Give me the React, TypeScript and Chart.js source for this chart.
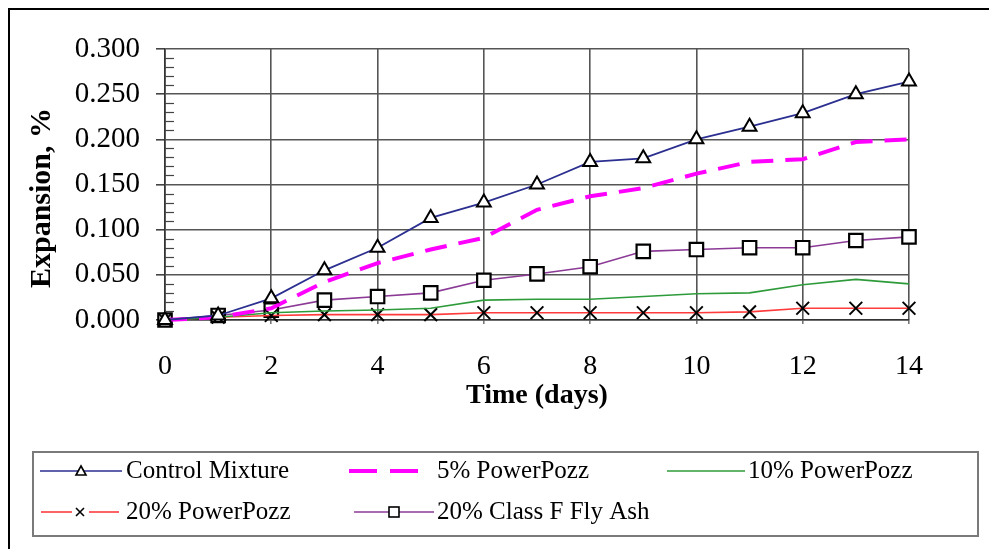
import React, { useEffect, useRef } from "react";
import { Chart, registerables } from "chart.js";

Chart.register(...registerables);

const days = [0, 1, 2, 3, 4, 5, 6, 7, 8, 9, 10, 11, 12, 13, 14];
const controlMixture = [0, 0.005, 0.024, 0.055, 0.08, 0.113, 0.13, 0.15, 0.175, 0.179, 0.2, 0.214, 0.229, 0.25, 0.264];
const powerPozz5 = [0, 0.003, 0.013, 0.042, 0.063, 0.078, 0.091, 0.122, 0.137, 0.146, 0.162, 0.175, 0.178, 0.197, 0.2];
const powerPozz10 = [0, 0.003, 0.008, 0.01, 0.011, 0.013, 0.022, 0.023, 0.023, 0.026, 0.029, 0.03, 0.039, 0.045, 0.04];
const powerPozz20 = [0, 0.003, 0.005, 0.006, 0.006, 0.006, 0.008, 0.008, 0.008, 0.008, 0.008, 0.009, 0.013, 0.013, 0.013];
const flyAsh20 = [0, 0.005, 0.011, 0.022, 0.026, 0.03, 0.044, 0.051, 0.059, 0.076, 0.078, 0.08, 0.08, 0.088, 0.092];
const seriesNames = ["Control Mixture", "5% PowerPozz", "10% PowerPozz", "20% PowerPozz", "20% Class F Fly Ash"];
const xTitle = "Time (days)";
const yTitle = "Expansion, %";

const SERIF = "'Liberation Serif', 'Times New Roman', serif";

const pts = (ys: number[]) => days.map((d, i) => ({ x: d, y: ys[i] }));

const decorPlugin = {
  id: "decor",
  beforeDraw(chart: any) {
    const ctx = chart.ctx;
    ctx.save();
    ctx.fillStyle = "#ffffff";
    ctx.fillRect(0, 0, chart.width, chart.height);
    ctx.strokeStyle = "#000";
    ctx.lineWidth = 2;
    ctx.strokeRect(9, 9, chart.width + 20, chart.height + 20);
    ctx.restore();
  },
  afterDraw(chart: any) {
    const ctx = chart.ctx;
    const ys = chart.scales.y;
    const xs = chart.scales.x;
    ctx.save();
    // minor ticks on y axis
    ctx.strokeStyle = "#444";
    ctx.lineWidth = 1.2;
    const x0 = xs.getPixelForValue(0);
    for (let k = 1; k < 30; k++) {
      if (k % 5 === 0) continue;
      const py = Math.round(ys.getPixelForValue(k / 100)) + 0.5;
      ctx.beginPath();
      ctx.moveTo(x0, py);
      ctx.lineTo(x0 + 9, py);
      ctx.stroke();
    }
    // titles
    ctx.fillStyle = "#000";
    ctx.font = `bold 28px ${SERIF}`;
    ctx.textAlign = "center";
    ctx.textBaseline = "middle";
    ctx.fillText(xTitle, (xs.left + xs.right) / 2 - 0, 396);
    ctx.save();
    ctx.translate(42, 198);
    ctx.rotate(-Math.PI / 2);
    ctx.font = `bold 30px ${SERIF}`;
    ctx.fillText(yTitle, 0, 0);
    ctx.restore();

    // legend
    ctx.strokeStyle = "#7a7a7a";
    ctx.lineWidth = 2;
    ctx.strokeRect(33, 452, 945, 84);
    ctx.font = `25px ${SERIF}`;
    ctx.textAlign = "left";
    ctx.textBaseline = "middle";
    const r1 = 471;
    const r2 = 512;
    const line = (xa: number, xb: number, y: number, color: string, w: number) => {
      ctx.strokeStyle = color;
      ctx.lineWidth = w;
      ctx.beginPath();
      ctx.moveTo(xa, y);
      ctx.lineTo(xb, y);
      ctx.stroke();
    };
    // Control Mixture
    line(40, 122, r1, "#2b2f8f", 1.6);
    ctx.fillStyle = "#fff";
    ctx.strokeStyle = "#000";
    ctx.lineWidth = 1.6;
    ctx.beginPath();
    ctx.moveTo(81, r1 - 5);
    ctx.lineTo(86, r1 + 4);
    ctx.lineTo(76, r1 + 4);
    ctx.closePath();
    ctx.fill();
    ctx.stroke();
    ctx.fillStyle = "#000";
    ctx.fillText(seriesNames[0], 126, r1);
    // 5%
    line(349, 377, r1, "#ff00ff", 4);
    line(390, 418, r1, "#ff00ff", 4);
    ctx.fillStyle = "#000";
    ctx.fillText(seriesNames[1], 437, r1);
    // 10%
    line(667, 745, r1, "#2e9b3a", 1.6);
    ctx.fillText(seriesNames[2], 748, r1);
    // 20% PP
    line(41, 72, r2, "#ff3b3b", 1.6);
    line(89, 119, r2, "#ff3b3b", 1.6);
    ctx.strokeStyle = "#000";
    ctx.lineWidth = 1.6;
    ctx.beginPath();
    ctx.moveTo(76, r2 - 4);
    ctx.lineTo(84, r2 + 4);
    ctx.moveTo(84, r2 - 4);
    ctx.lineTo(76, r2 + 4);
    ctx.stroke();
    ctx.fillStyle = "#000";
    ctx.fillText(seriesNames[3], 126, r2);
    // Fly ash
    line(354, 434, r2, "#8b3a96", 1.6);
    ctx.fillStyle = "#fff";
    ctx.fillRect(389, r2 - 5, 10, 10);
    ctx.strokeStyle = "#000";
    ctx.lineWidth = 1.6;
    ctx.strokeRect(389, r2 - 5, 10, 10);
    ctx.fillStyle = "#000";
    ctx.fillText(seriesNames[4], 437, r2);
    ctx.restore();
  },
};

export default function App() {
  const ref = useRef<HTMLCanvasElement | null>(null);
  useEffect(() => {
    if (!ref.current) return;
    const chart = new Chart(ref.current, {
      type: "line",
      data: {
        datasets: [
          {
            label: seriesNames[0],
            data: pts(controlMixture),
            borderColor: "#2b2f8f",
            borderWidth: 1.8,
            pointStyle: "triangle",
            pointRadius: 8,
            pointBackgroundColor: "#fff",
            pointBorderColor: "#000",
            pointBorderWidth: 2,
            tension: 0,
            clip: false,
          },
          {
            label: seriesNames[1],
            data: pts(powerPozz5),
            borderColor: "#ff00ff",
            borderWidth: 4,
            borderDash: [22, 12],
            pointRadius: 0,
            tension: 0,
            clip: false,
          },
          {
            label: seriesNames[2],
            data: pts(powerPozz10),
            borderColor: "#2e9b3a",
            borderWidth: 1.6,
            pointRadius: 0,
            tension: 0,
            clip: false,
          },
          {
            label: seriesNames[3],
            data: pts(powerPozz20),
            borderColor: "#ff3b3b",
            borderWidth: 1.6,
            pointStyle: "crossRot",
            pointRadius: 9,
            pointBorderColor: "#000",
            pointBorderWidth: 2,
            tension: 0,
            clip: false,
          },
          {
            label: seriesNames[4],
            data: pts(flyAsh20),
            borderColor: "#8b3a96",
            borderWidth: 1.6,
            pointStyle: "rect",
            pointRadius: 9.5,
            pointBackgroundColor: "#fff",
            pointBorderColor: "#000",
            pointBorderWidth: 2.2,
            tension: 0,
            clip: false,
          },
        ],
      },
      options: {
        responsive: false,
        animation: false,
        devicePixelRatio: 1,
        layout: { padding: { left: 0, top: 49, right: 80, bottom: 0 } },
        plugins: { legend: { display: false }, tooltip: { enabled: false } },
        scales: {
          x: {
            type: "linear",
            min: 0,
            max: 14,
            afterFit: (s: any) => {
              s.height = 229;
            },
            ticks: {
              stepSize: 2,
              color: "#000",
              font: { family: SERIF, size: 28 },
              padding: 26,
              maxRotation: 0,
            },
            grid: { color: "#555", lineWidth: 1.6, tickLength: 4, tickColor: "#777" },
            border: { color: "#333", width: 1.6 },
          },
          y: {
            min: 0,
            max: 0.3,
            afterFit: (s: any) => {
              s.width = 165;
            },
            ticks: {
              stepSize: 0.05,
              color: "#000",
              font: { family: SERIF, size: 29 },
              padding: 16,
              callback: (v: any) => Number(v).toFixed(3),
            },
            grid: { color: "#555", lineWidth: 1.6, tickLength: 9, tickColor: "#444" },
            border: { color: "#333", width: 1.6 },
          },
        },
      },
      plugins: [decorPlugin],
    });
    return () => chart.destroy();
  }, []);
  return (
    <div style={{ position: "fixed", left: 0, top: 0, width: 989, height: 549, background: "#fff" }}>
      <canvas ref={ref} width={989} height={549} style={{ display: "block" }} />
    </div>
  );
}
